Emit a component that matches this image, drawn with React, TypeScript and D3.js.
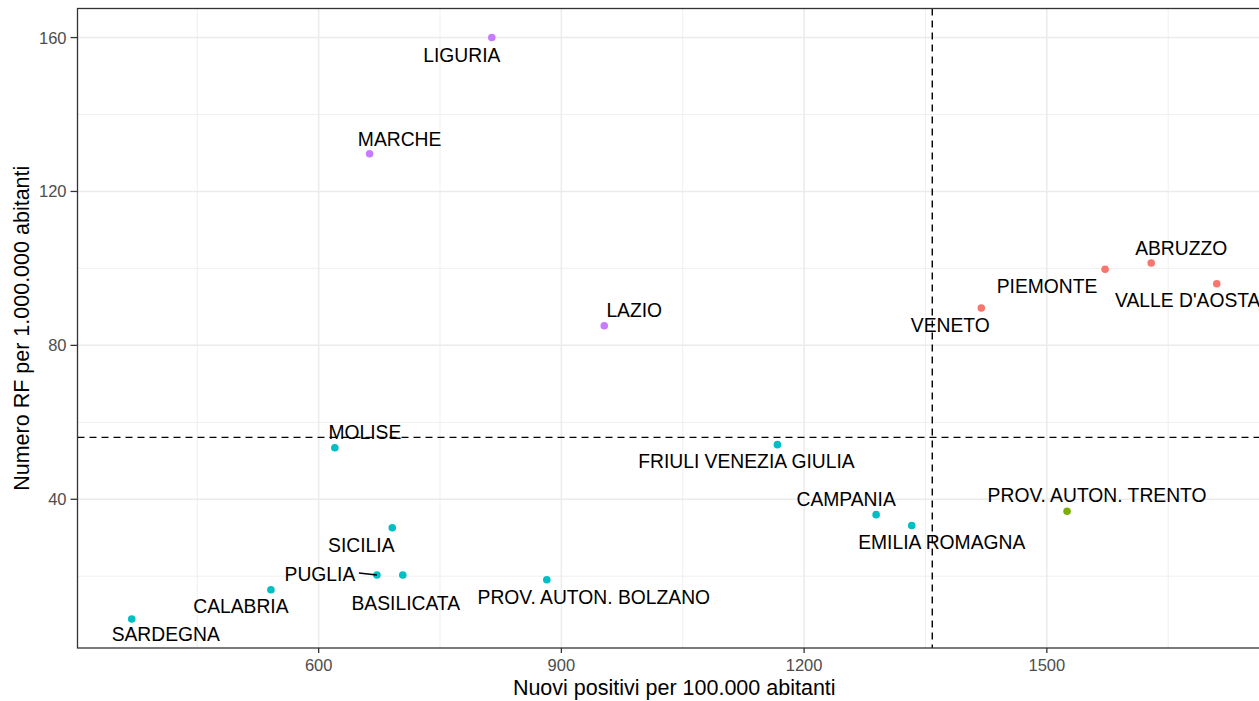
import React from 'react';
import * as d3 from 'd3';

// dati
const regioni = [
  'LIGURIA', 'MARCHE', 'LAZIO', 'MOLISE', 'SICILIA', 'PUGLIA', 'BASILICATA',
  'CALABRIA', 'SARDEGNA', 'PROV. AUTON. BOLZANO', 'FRIULI VENEZIA GIULIA',
  'CAMPANIA', 'EMILIA ROMAGNA', 'PROV. AUTON. TRENTO', 'VENETO', 'PIEMONTE',
  'ABRUZZO', "VALLE D'AOSTA",
];
const positivi = [814, 663, 953, 620, 691, 672, 704, 541, 369, 882, 1167, 1289, 1333, 1525, 1419, 1572, 1629, 1710];
const rf = [160, 129.8, 85.1, 53.4, 32.6, 20.3, 20.3, 16.5, 8.9, 19.1, 54.2, 36, 33.2, 36.9, 89.7, 99.8, 101.4, 96];
const gruppo = ['B', 'B', 'B', 'C', 'C', 'C', 'C', 'C', 'C', 'C', 'C', 'C', 'C', 'D', 'A', 'A', 'A', 'A'];
const gruppi = ['A', 'D', 'C', 'B'];
const mediaPositivi = 1358.4;
const mediaRf = 56.1;
const xTicks = [600, 900, 1200, 1500];
const yTicks = [40, 80, 120, 160];

// spostamento etichette (stile ggrepel), in pixel
const etichette: Record<string, [number, number]> = {
  LIGURIA: [-30, 18],
  MARCHE: [30, -14],
  LAZIO: [30, -15],
  MOLISE: [30, -15],
  SICILIA: [-31, 18],
  PUGLIA: [-57, -1],
  BASILICATA: [3, 28],
  CALABRIA: [-30, 17],
  SARDEGNA: [34, 16],
  'PROV. AUTON. BOLZANO': [47, 18],
  'FRIULI VENEZIA GIULIA': [-31, 17],
  CAMPANIA: [-30, -15],
  'EMILIA ROMAGNA': [30, 17],
  'PROV. AUTON. TRENTO': [30, -16],
  VENETO: [-31, 17],
  PIEMONTE: [-58, 17],
  ABRUZZO: [30, -15],
  "VALLE D'AOSTA": [-29, 17],
};

const W = 1259;
const H = 701;
const left = 77.5;
const right = 1271;
const top = 8.5;
const bottom = 648;

const expand = (ext: [number, number]) => {
  const pad = (ext[1] - ext[0]) * 0.05;
  return [ext[0] - pad, ext[1] + pad];
};

export default function App() {
  const x = d3.scaleLinear().domain(expand(d3.extent(positivi) as [number, number])).range([left, right]);
  const y = d3.scaleLinear().domain(expand(d3.extent(rf) as [number, number])).range([bottom, top]);
  const colore = d3.scaleOrdinal<string, string>().domain(gruppi)
    .range(['#F8766D', '#7CAE00', '#00BFC4', '#C77CFF']);

  const xMinor = d3.range(450, 1800, 300);
  const yMinor = d3.range(20, 170, 40);
  const font = 'Liberation Sans, Arial, sans-serif';

  const punti = regioni.map((r, i) => ({ nome: r, x: x(positivi[i]), y: y(rf[i]), g: gruppo[i] }));

  return (
    <svg width={W} height={H} style={{ position: 'absolute', left: 0, top: 0, background: '#fff' }} fontFamily={font}>
      <defs>
        <clipPath id="panel">
          <rect x={left} y={top} width={right - left} height={bottom - top} />
        </clipPath>
      </defs>
      <rect x={0} y={0} width={W} height={H} fill="#fff" />
      <g clipPath="url(#panel)">
        {xMinor.map(v => (
          <line key={'xm' + v} x1={x(v)} x2={x(v)} y1={top} y2={bottom} stroke="#EBEBEB" strokeWidth={0.8} />
        ))}
        {yMinor.map(v => (
          <line key={'ym' + v} x1={left} x2={right} y1={y(v)} y2={y(v)} stroke="#EBEBEB" strokeWidth={0.8} />
        ))}
        {xTicks.map(v => (
          <line key={'xM' + v} x1={x(v)} x2={x(v)} y1={top} y2={bottom} stroke="#EBEBEB" strokeWidth={1.5} />
        ))}
        {yTicks.map(v => (
          <line key={'yM' + v} x1={left} x2={right} y1={y(v)} y2={y(v)} stroke="#EBEBEB" strokeWidth={1.5} />
        ))}
        <line x1={left} x2={right} y1={y(mediaRf)} y2={y(mediaRf)} stroke="#000" strokeWidth={1.4} strokeDasharray="7,5" />
        <line x1={x(mediaPositivi)} x2={x(mediaPositivi)} y1={top} y2={bottom} stroke="#000" strokeWidth={1.4} strokeDasharray="7,5" />
        {punti.map(p => (
          <circle key={p.nome} cx={p.x} cy={p.y} r={3.8} fill={colore(p.g)} />
        ))}
        {punti.filter(p => p.nome === 'PUGLIA').map(p => (
          <line key="seg" x1={p.x + etichette[p.nome][0] + 39} y1={p.y - 2} x2={p.x} y2={p.y} stroke="#000" strokeWidth={1.5} />
        ))}
      </g>
      {punti.map(p => (
        <text key={'t' + p.nome} x={p.x + etichette[p.nome][0]} y={p.y + etichette[p.nome][1]}
          textAnchor="middle" dominantBaseline="central" fontSize={19.3} fill="#000">
          {p.nome}
        </text>
      ))}
      <rect x={left} y={top} width={right - left} height={bottom - top} fill="none" stroke="#333" strokeWidth={1.3} />
      {xTicks.map(v => (
        <g key={'xt' + v}>
          <line x1={x(v)} x2={x(v)} y1={bottom} y2={bottom + 5} stroke="#333" strokeWidth={1.3} />
          <text x={x(v)} y={bottom + 17} textAnchor="middle" dominantBaseline="central" fontSize={16.5} fill="#4D4D4D">{v}</text>
        </g>
      ))}
      {yTicks.map(v => (
        <g key={'yt' + v}>
          <line x1={left - 7} x2={left} y1={y(v)} y2={y(v)} stroke="#333" strokeWidth={1.3} />
          <text x={left - 11} y={y(v)} textAnchor="end" dominantBaseline="central" fontSize={16.5} fill="#4D4D4D">{v}</text>
        </g>
      ))}
      <text x={(left + right) / 2} y={695} textAnchor="middle" fontSize={21.5} fill="#000">
        Nuovi positivi per 100.000 abitanti
      </text>
      <text transform={`translate(29,${(top + bottom) / 2}) rotate(-90)`} textAnchor="middle" fontSize={21.5} fill="#000">
        Numero RF per 1.000.000 abitanti
      </text>
    </svg>
  );
}
